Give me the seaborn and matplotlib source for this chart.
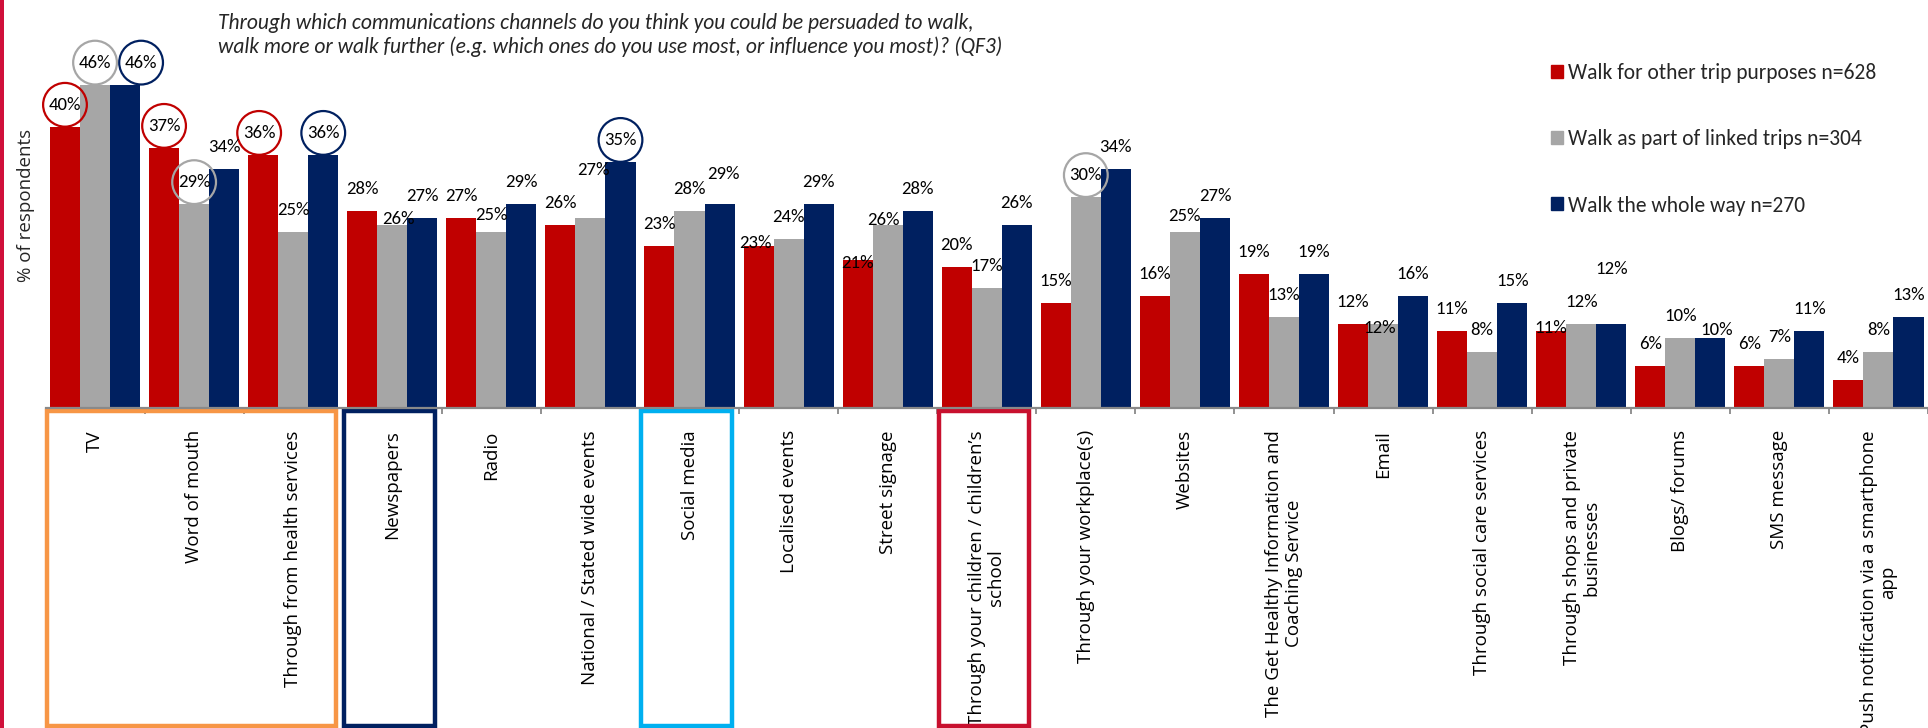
import numpy as np
import pandas as pd
import matplotlib
matplotlib.use("Agg")
import matplotlib.pyplot as plt
import seaborn as sns
from matplotlib.patches import Rectangle
from matplotlib.transforms import blended_transform_factory

# ---------------- data ----------------
categories = [
    "TV", "Word of mouth", "Through from health services", "Newspapers", "Radio",
    "National / Stated wide events", "Social media", "Localised events", "Street signage",
    "Through your children / children\u2019s\nschool", "Through your workplace(s)", "Websites",
    "The Get Healthy Information and\nCoaching Service", "Email", "Through social care services",
    "Through shops and private\nbusinesses", "Blogs/ forums", "SMS message",
    "Push notification via a smartphone\napp",
]
series = [
    "Walk for other trip purposes n=628",
    "Walk as part of linked trips n=304",
    "Walk the whole way n=270",
]
other_trips = [40, 37, 36, 28, 27, 26, 23, 23, 21, 20, 15, 16, 19, 12, 11, 11, 6, 6, 4]
linked_trips = [46, 29, 25, 26, 25, 27, 28, 24, 26, 17, 30, 25, 13, 12, 8, 12, 10, 7, 8]
whole_way = [46, 34, 36, 27, 29, 35, 29, 29, 28, 26, 34, 27, 19, 16, 15, 12, 10, 11, 13]

title = ("Through which communications channels do you think you could be persuaded to walk,\n"
         "walk more or walk further (e.g. which ones do you use most, or influence you most)? (QF3)")

# ---------------- style ----------------
colors = ["#C00000", "#A6A6A6", "#002060"]
circled = {(0, 0), (1, 0), (2, 0), (0, 1), (1, 1), (0, 2), (2, 2), (2, 5), (1, 10)}
# label nudges in pixels (dx, dy) relative to default placement above the bar
nudges = {(2, 0): (16, 0), (0, 2): (-4, 0), (1, 3): (6, -16), (1, 4): (0, -5), (1, 5): (3, 26),
          (2, 6): (4, 8), (0, 7): (-3, -19), (0, 8): (0, -25), (1, 8): (-4, -17),
          (1, 11): (0, -6), (1, 13): (-3, -26), (0, 15): (0, -19), (2, 15): (0, 33),
          (2, 16): (6, -14)}
highlight_boxes = [(0, 2, "#F79646"), (3, 3, "#002060"), (6, 6, "#00B0F0"), (9, 9, "#C8102E")]

NARROW = ["Carlito", "DejaVu Sans"]
SANS = ["Open Sans", "DejaVu Sans"]

sns.set_theme(style="white")
plt.rcParams["font.family"] = SANS

DPI = 100
fig = plt.figure(figsize=(19.28, 7.28), dpi=DPI)
W, H = 1928, 728
n = len(categories)
group_px = 99.7
left_px = 45.5
base_px = 408
pct_px = 7.03

ax = fig.add_axes([left_px / W, 1 - base_px / H, 1 - left_px / W, base_px / H])

df = pd.DataFrame({
    "category": categories * 3,
    "value": other_trips + linked_trips + whole_way,
    "series": np.repeat(series, n),
})
sns.barplot(data=df, x="category", y="value", hue="series", order=categories,
            hue_order=series, palette=colors, saturation=1, width=0.91, gap=0,
            linewidth=0, errorbar=None, legend=False, ax=ax)

ax.set_xlim(-0.5, -0.5 + (W - left_px) / group_px)
ax.set_ylim(0, base_px / pct_px)
ax.set_xlabel("")
ax.set_ylabel("")
ax.set_yticks([])
for s in ["top", "right", "left"]:
    ax.spines[s].set_visible(False)
ax.spines["bottom"].set_color("#898989")
ax.spines["bottom"].set_linewidth(1.6)

ax.set_xticks(range(n))
ax.set_xticklabels(categories, rotation=90, ha="center", va="top", multialignment="center",
                   fontsize=13.5, family=SANS, color="black", linespacing=1.1)
ax.set_xticks(np.arange(-0.5, n, 1), minor=True)
ax.tick_params(axis="x", which="major", length=0, pad=16)
ax.tick_params(axis="x", which="minor", bottom=True, length=4, width=1.3, color="#898989")

# data labels
for j, cont in enumerate(ax.containers):
    for i, rect in enumerate(cont):
        v = rect.get_height()
        dx, dy = nudges.get((j, i), (0, 0))
        kw = {}
        if (j, i) in circled:
            kw["bbox"] = dict(boxstyle="circle,pad=0.3", fc="none", ec=colors[j], lw=1.6)
        ax.annotate(f"{v:.0f}%", (rect.get_x() + rect.get_width() / 2, v),
                    xytext=(dx * 0.72, (22 + dy) * 0.72), textcoords="offset points",
                    ha="center", va="center", fontsize=13.5, family=NARROW,
                    color="black", annotation_clip=False, **kw)

# highlight boxes under category labels
tr = blended_transform_factory(ax.transData, fig.transFigure)
for i0, i1, c in highlight_boxes:
    x0 = i0 - 0.5 + 0.015
    x1 = i1 + 0.5 - 0.07
    ax.add_patch(Rectangle((x0, 0.003), x1 - x0, 1 - 411 / H - 0.003, transform=tr,
                           fill=False, ec=c, lw=3.2, clip_on=False))

# left crimson strip
fig.add_artist(Rectangle((0, 0), 4 / W, 1, transform=fig.transFigure, color="#D0103A", lw=0))

fig.text(26 / W, 1 - 205 / H, "% of respondents", rotation=90, ha="center", va="center",
         fontsize=13.5, family=SANS)
fig.text(218 / W, 1 - 35 / H, title, ha="left", va="center", fontsize=15.5, style="italic",
         family=NARROW, linespacing=1.2)

handles = [Rectangle((0, 0), 1, 1, color=c) for c in colors]
fig.legend(handles, series, loc="upper left", bbox_to_anchor=(1551 / W, 1 - 63 / H),
           frameon=False, prop={"family": NARROW, "size": 15.5},
           handlelength=0.55, handleheight=0.55, handletextpad=0.25, labelspacing=2.15,
           borderpad=0, borderaxespad=0)

fig.savefig("out.png", dpi=DPI)
